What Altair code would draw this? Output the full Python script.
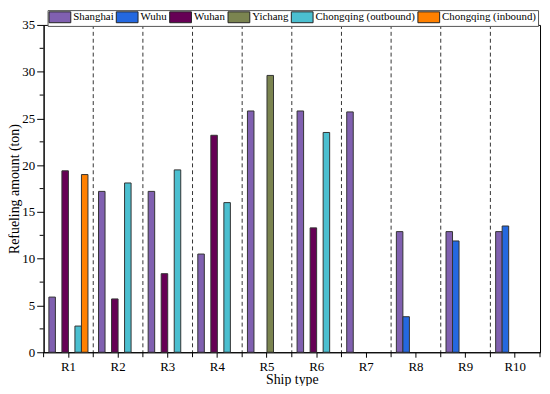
import altair as alt
import pandas as pd

ships = ["R1", "R2", "R3", "R4", "R5", "R6", "R7", "R8", "R9", "R10"]
series = ["Shanghai", "Wuhu", "Wuhan", "Yichang", "Chongqing (outbound)", "Chongqing (inbound)"]
colors = ["#8060B0", "#2468E0", "#660055", "#7B8450", "#4BBFD0", "#FF8000"]

shanghai = [5.9, 17.2, 17.2, 10.5, 25.8, 25.8, 25.7, 12.9, 12.9, 12.9]
wuhu = [None, None, None, None, None, None, None, 3.8, 11.9, 13.5]
wuhan = [19.4, 5.7, 8.4, 23.2, None, 13.3, None, None, None, None]
yichang = [None, None, None, None, 29.6, None, None, None, None, None]
cq_out = [2.8, 18.1, 19.5, 16.0, None, 23.5, None, None, None, None]
cq_in = [19.0, None, None, None, None, None, None, None, None, None]

y_major = [0, 5, 10, 15, 20, 25, 30, 35]
y_minor = [2.5, 7.5, 12.5, 17.5, 22.5, 27.5, 32.5]

rows = []
for name, vals in zip(series, [shanghai, wuhu, wuhan, yichang, cq_out, cq_in]):
    for s, v in zip(ships, vals):
        if v is not None:
            rows.append({"ship": s, "series": name, "value": v})
df = pd.DataFrame(rows)

W, H = 502, 331
FONT = "Liberation Serif"
XT = "Ship type"
YT = "Refueling amount (ton)"

xscale = alt.Scale(type="band", domain=ships, paddingInner=0, paddingOuter=0)
yscale = alt.Scale(domain=[0, 35], nice=False)
x_axis = alt.Axis(labelAngle=0, tickSize=5, labelPadding=3, titlePadding=0)
y_axis = alt.Axis(values=y_major, tickSize=7, labelPadding=2, titlePadding=0, grid=False)

bars = alt.Chart(df).mark_bar(stroke="#333333", strokeWidth=1).encode(
    x=alt.X("ship:N", scale=xscale, title=XT, axis=x_axis),
    xOffset=alt.XOffset("series:N", scale=alt.Scale(domain=series, paddingInner=0, paddingOuter=0.81)),
    y=alt.Y("value:Q", scale=yscale, title=YT, axis=y_axis),
    color=alt.Color("series:N", scale=alt.Scale(domain=series, range=colors),
                    legend=alt.Legend(title=None, orient="none", legendX=4, legendY=-15,
                                      direction="horizontal", columns=6)),
)

div_df = pd.DataFrame({"ship": ships[1:]})
dividers = alt.Chart(div_df).mark_rule(color="#333333", strokeDash=[4, 3], strokeWidth=1).encode(
    x=alt.X("ship:N", scale=xscale, bandPosition=0, title=XT, axis=x_axis),
    y=alt.value(0), y2=alt.value(H),
)

tick_df = pd.DataFrame({"ship": ships})
xticks = alt.Chart(tick_df).mark_rule(color="black", strokeWidth=1).encode(
    x=alt.X("ship:N", scale=xscale, bandPosition=0, title=XT, axis=x_axis),
    y=alt.value(H), y2=alt.value(H + 5),
)
end_df = pd.DataFrame({"ship": ships[-1:]})
xtick_end = alt.Chart(end_df).mark_rule(color="black", strokeWidth=1).encode(
    x=alt.X("ship:N", scale=xscale, bandPosition=1, title=XT, axis=x_axis),
    y=alt.value(H), y2=alt.value(H + 5),
)

minor_df = pd.DataFrame({"v": y_minor})
yminor = alt.Chart(minor_df).mark_rule(color="black", strokeWidth=1).encode(
    y=alt.Y("v:Q", scale=yscale, title=YT, axis=y_axis),
    x=alt.value(-4), x2=alt.value(0),
)

chart = alt.layer(bars, dividers, xticks, xtick_end, yminor).properties(
    width=W, height=H,
    autosize=alt.AutoSizeParams(type="none"),
    padding={"left": 36, "top": 15, "right": 2, "bottom": 32},
).configure_view(stroke="black", strokeWidth=1).configure_axis(
    domainColor="black", tickColor="black", labelColor="black", titleColor="black",
    labelFont=FONT, titleFont=FONT, labelFontSize=13, titleFontSize=14,
    titleFontWeight="normal", grid=False,
).configure_legend(
    labelFont=FONT, labelFontSize=11, labelColor="black",
    strokeColor="#555555", fillColor="white", padding=1,
    symbolType="M-1,-1L3,-1L3,1L-1,1Z", symbolSize=121,
    symbolStrokeColor="#222222", symbolStrokeWidth=1, symbolOpacity=1,
    symbolOffset=0, labelOffset=13, columnPadding=0,
)

chart.save("out.html", embed_options={"renderer": "svg", "actions": False})
